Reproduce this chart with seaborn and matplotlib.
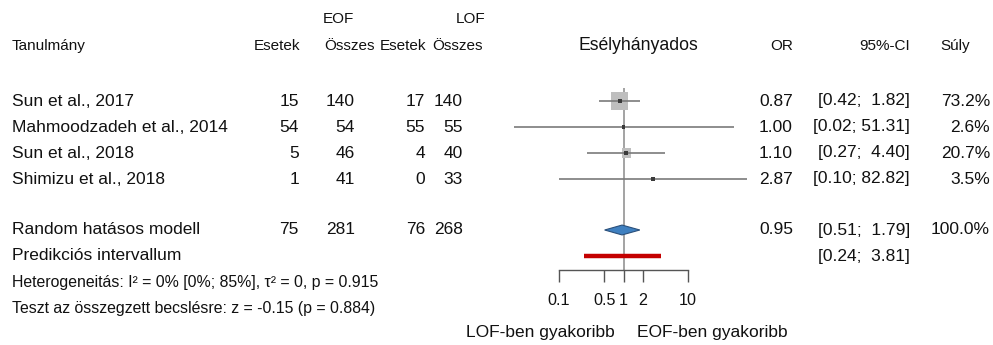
import numpy as np
import pandas as pd
import matplotlib
matplotlib.use('Agg')
import matplotlib.pyplot as plt
from matplotlib.ticker import FixedLocator, FixedFormatter, NullLocator
import seaborn as sns

# adatok
studies = ["Sun et al., 2017", "Mahmoodzadeh et al., 2014", "Sun et al., 2018", "Shimizu et al., 2018"]
eof_events = [15, 54, 5, 1]
eof_total = [140, 54, 46, 41]
lof_events = [17, 55, 4, 0]
lof_total = [140, 55, 40, 33]
odds_ratio = [0.87, 1.00, 1.10, 2.87]
ci_low = [0.42, 0.02, 0.27, 0.10]
ci_high = [1.82, 51.31, 4.40, 82.82]
weights = [73.2, 2.6, 20.7, 3.5]

pooled_counts = [75, 281, 76, 268]
pooled_or = 0.95
pooled_ci = [0.51, 1.79]
pred_interval = [0.24, 3.81]

tick_values = [0.1, 0.5, 1, 2, 10]
tick_labels = ["0.1", "0.5", "1", "2", "10"]

sns.set_theme(style="white")
plt.rcParams['font.family'] = ['Liberation Sans', 'DejaVu Sans']

W, H = 993, 345
ROW0, ROWH = 101, 26          # első sor pixelben, sormagasság


def row_of(px):
    return (px - ROW0) / ROWH


fig = plt.figure(figsize=(W / 100, H / 100), dpi=100)

# szöveges réteg: x pixelben, y sorokban
tax = fig.add_axes([0, 0, 1, 1])
tax.set_xlim(0, W)
tax.set_ylim(row_of(H), row_of(0))
tax.axis('off')

FS_ROW = 12.5
FS_HEAD = 11.0
FS_SMALL = 11.45
TXT = '#111111'

# fejléc
y_head = row_of(46)
y_grp = row_of(19)
tax.text(12, y_head, "Tanulmány", fontsize=FS_HEAD, va='center', ha='left', color=TXT)
for x, lab in zip([300, 375, 426, 483], ["Esetek", "Összes", "Esetek", "Összes"]):
    tax.text(x, y_head, lab, fontsize=FS_HEAD, va='center', ha='right', color=TXT)
tax.text(323, y_grp, "EOF", fontsize=FS_HEAD, va='center', ha='left', color=TXT)
tax.text(456, y_grp, "LOF", fontsize=FS_HEAD, va='center', ha='left', color=TXT)
tax.text(638, y_head, "Esélyhányados", fontsize=12.7, va='center', ha='center', color=TXT)
tax.text(793, y_head, "OR", fontsize=FS_HEAD, va='center', ha='right', color=TXT)
tax.text(910, y_head, "95%-CI", fontsize=FS_HEAD, va='center', ha='right', color=TXT)
tax.text(940, y_head, "Súly", fontsize=FS_HEAD, va='center', ha='left', color=TXT)

count_x = [299, 355, 425, 463]

# tanulmány sorok
for i, name in enumerate(studies):
    tax.text(12, i, name, fontsize=FS_ROW, va='center', ha='left', color=TXT)
    for x, v in zip(count_x, [eof_events[i], eof_total[i], lof_events[i], lof_total[i]]):
        tax.text(x, i, str(v), fontsize=FS_ROW, va='center', ha='right', color=TXT)
    tax.text(793, i, f"{odds_ratio[i]:.2f}", fontsize=FS_ROW, va='center', ha='right', color=TXT)
    tax.text(910, i, f"[{ci_low[i]:.2f}; {ci_high[i]:5.2f}]", fontsize=FS_ROW, va='center', ha='right', color=TXT)
    tax.text(990, i, f"{weights[i]:.1f}%", fontsize=FS_ROW, va='center', ha='right', color=TXT)

# összesített sorok
y_pool = row_of(230)
y_pred = row_of(256)
tax.text(12, y_pool, "Random hatásos modell", fontsize=FS_ROW, va='center', ha='left', color=TXT)
for x, v in zip(count_x, pooled_counts):
    tax.text(x, y_pool, str(v), fontsize=FS_ROW, va='center', ha='right', color=TXT)
tax.text(793, y_pool, f"{pooled_or:.2f}", fontsize=FS_ROW, va='center', ha='right', color=TXT)
tax.text(910, y_pool, f"[{pooled_ci[0]:.2f}; {pooled_ci[1]:5.2f}]", fontsize=FS_ROW, va='center', ha='right', color=TXT)
tax.text(990, y_pool, f"{sum(weights):.1f}%", fontsize=FS_ROW, va='center', ha='right', color=TXT)
tax.text(12, y_pred, "Predikciós intervallum", fontsize=FS_ROW, va='center', ha='left', color=TXT)
tax.text(910, y_pred, f"[{pred_interval[0]:.2f}; {pred_interval[1]:5.2f}]", fontsize=FS_ROW, va='center', ha='right', color=TXT)

tax.text(12, row_of(283), "Heterogeneitás: I² = 0% [0%; 85%], τ² = 0, p = 0.915",
         fontsize=FS_SMALL, va='center', ha='left', color=TXT)
tax.text(12, row_of(308), "Teszt az összegzett becslésre: z = -0.15 (p = 0.884)",
         fontsize=FS_SMALL, va='center', ha='left', color=TXT)

tax.text(540, row_of(333), "LOF-ben gyakoribb", fontsize=FS_ROW, va='center', ha='center', color=TXT)
tax.text(712, row_of(333), "EOF-ben gyakoribb", fontsize=FS_ROW, va='center', ha='center', color=TXT)

# forest rész: log skála, 1 a 623.5 px-nél, 64.5 px / dekád
AX_L, AX_R, AX_B = 500, 760, 270
ax = fig.add_axes([AX_L / W, (H - AX_B) / H, (AX_R - AX_L) / W, AX_B / H])
ax.set_xscale('log')
ax.set_xlim(10 ** ((AX_L - 623.5) / 64.5), 10 ** ((AX_R - 623.5) / 64.5))
ax.set_ylim(row_of(AX_B), row_of(0))
ax.patch.set_alpha(0)

df = pd.DataFrame({'study': studies, 'or': odds_ratio, 'lo': ci_low, 'hi': ci_high,
                   'w': weights, 'row': np.arange(len(studies))})

# négyzetek a súllyal arányos oldalhosszal
side_px = {s: 17.5 * np.sqrt(w / max(weights)) for s, w in zip(studies, weights)}
sizes = {s: (side_px[s] * 0.72) ** 2 for s in studies}
sns.scatterplot(data=df, x='or', y='row', size='study', sizes=sizes, marker='s',
                color='#BEBEBE', edgecolor='none', legend=False, ax=ax, zorder=2)

ax.vlines(1, row_of(88), row_of(AX_B), color='#8A8A8A', lw=1.1, zorder=1)
ax.hlines(df['row'], df['lo'], df['hi'], color='#7A7A7A', lw=1.2, zorder=3)
sns.scatterplot(data=df, x='or', y='row', marker='s', s=8, color='#3A3A3A',
                edgecolor='none', legend=False, ax=ax, zorder=4)

# összesített gyémánt
h = 0.19
ax.fill([pooled_ci[0], pooled_or, pooled_ci[1], pooled_or],
        [y_pool, y_pool - h, y_pool, y_pool + h],
        facecolor='#3F80C0', edgecolor='#2A4F7A', lw=0.8, zorder=5)

# predikciós intervallum
ax.hlines(y_pred, pred_interval[0], pred_interval[1], color='#C40000', lw=3.2, zorder=5)

# x tengely
for s in ['top', 'left', 'right']:
    ax.spines[s].set_visible(False)
ax.spines['bottom'].set_bounds(tick_values[0], tick_values[-1])
ax.spines['bottom'].set_color('#555555')
ax.spines['bottom'].set_linewidth(1.0)
ax.xaxis.set_major_locator(FixedLocator(tick_values))
ax.xaxis.set_major_formatter(FixedFormatter(tick_labels))
ax.xaxis.set_minor_locator(NullLocator())
ax.yaxis.set_major_locator(NullLocator())
ax.tick_params(axis='x', direction='out', length=8.6, width=1.0, color='#555555',
               pad=8, labelsize=11.6, labelcolor=TXT, bottom=True)
ax.set_xlabel('')
ax.set_ylabel('')

fig.savefig('out.png', dpi=100)
